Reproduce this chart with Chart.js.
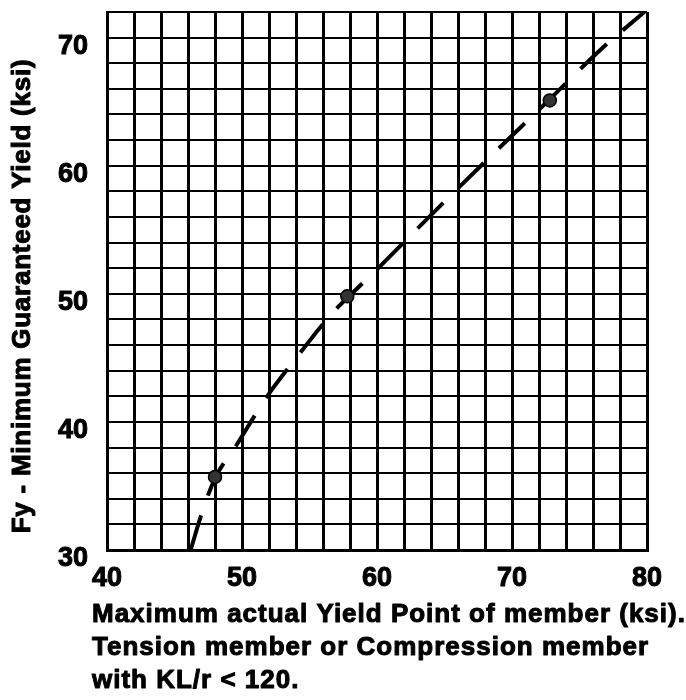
<!DOCTYPE html>
<html>
<head>
<meta charset="utf-8">
<script src="https://cdn.jsdelivr.net/npm/chart.js@4/dist/chart.umd.min.js"></script>
<style>
  body { margin: 0; background: #fff; }
  #wrap { width: 686px; height: 700px; }
</style>
</head>
<body>
<div id="wrap"><canvas id="yieldChart" width="686" height="700"></canvas></div>
<script>
// dashed curve (x = max actual yield, y = Fy)
const curveX = [46.2, 47.0, 48.0, 49.6, 51.8, 54.1, 56.7, 59.8, 63.0, 67.7, 72.8, 76.5, 79.8];
const curveY = [30.0, 32.8, 35.6, 38.2, 41.9, 45.1, 48.5, 51.7, 55.1, 60.0, 65.2, 69.0, 72.0];
// the three marked points on the curve
const markX = [48.0, 57.8, 72.8];
const markY = [35.7, 49.8, 65.1];
// axes
const xRange = [40, 80];
const yRange = [30, 72];
const gridStep = 2;
const xTickLabels = [40, 50, 60, 70, 80];
const yTickLabels = [30, 40, 50, 60, 70];
const yTitle = 'Fy - Minimum Guaranteed Yield (ksi)';
const xTitle = [
    'Maximum actual Yield Point of member (ksi).',
    'Tension member or Compression member',
    'with KL/r < 120.'
];

const FONT = '"Liberation Sans", Arial, sans-serif';
const tickFont = { family: FONT, size: 27, weight: 'bold' };

// axis titles drawn by hand so they can sit where the original puts them
const axisTitles = {
    id: 'axisTitles',
    afterDraw(chart) {
        const { ctx, chartArea } = chart;
        ctx.save();
        ctx.fillStyle = '#000';
        ctx.strokeStyle = '#000';
        ctx.lineWidth = 1;
        ctx.lineJoin = 'round';
        ctx.textBaseline = 'middle';
        ctx.font = 'bold 26px ' + FONT;
        ctx.letterSpacing = '1px';
        ctx.textAlign = 'left';
        xTitle.forEach((line, i) => {
            const y = chartArea.bottom + 65 + i * 33;
            ctx.fillText(line, chartArea.left - 15, y);
            ctx.strokeText(line, chartArea.left - 15, y);
        });
        ctx.letterSpacing = '0.75px';
        ctx.translate(23, (chartArea.top + chartArea.bottom) / 2 + 15);
        ctx.rotate(-Math.PI / 2);
        ctx.textAlign = 'center';
        ctx.fillText(yTitle, 0, 0);
        ctx.strokeText(yTitle, 0, 0);
        ctx.restore();
    }
};

const ctx = document.getElementById('yieldChart').getContext('2d');
new Chart(ctx, {
    type: 'scatter',
    data: {
        datasets: [{
            label: 'Marked points',
            data: markX.map((x, i) => ({ x: x, y: markY[i] })),
            showLine: false,
            pointRadius: 6.5,
            pointBackgroundColor: '#333',
            pointBorderColor: '#000',
            pointBorderWidth: 1.5
        }, {
            label: 'Fy curve',
            data: curveX.map((x, i) => ({ x: x, y: curveY[i] })),
            showLine: true,
            borderColor: '#000',
            borderWidth: 4,
            borderDash: [36, 21],
            cubicInterpolationMode: 'monotone',
            pointRadius: 0,
            fill: false
        }]
    },
    options: {
        responsive: false,
        animation: false,
        layout: {
            padding: { left: 0, top: 12, right: 39, bottom: 0 }
        },
        plugins: {
            legend: { display: false },
            tooltip: { enabled: false }
        },
        scales: {
            x: {
                type: 'linear',
                min: xRange[0],
                max: xRange[1],
                afterFit: (scale) => {
                    scale.height = 150;
                    scale.paddingLeft = 0;
                    scale.paddingRight = 0;
                },
                grid: { color: '#000', lineWidth: 3, drawTicks: false },
                border: { color: '#000', width: 3 },
                ticks: {
                    stepSize: gridStep,
                    autoSkip: false,
                    maxRotation: 0,
                    padding: 12,
                    color: '#000',
                    textStrokeColor: '#000',
                    textStrokeWidth: 1,
                    font: tickFont,
                    callback: (v) => xTickLabels.includes(v) ? v : ''
                }
            },
            y: {
                type: 'linear',
                min: yRange[0],
                max: yRange[1],
                afterFit: (scale) => {
                    scale.width = 107;
                    scale.paddingTop = 0;
                    scale.paddingBottom = 0;
                },
                grid: { color: '#000', lineWidth: 2, drawTicks: false },
                border: { color: '#000', width: 3 },
                ticks: {
                    stepSize: gridStep,
                    autoSkip: false,
                    padding: 19,
                    labelOffset: 9,
                    color: '#000',
                    textStrokeColor: '#000',
                    textStrokeWidth: 1,
                    font: tickFont,
                    callback: (v) => yTickLabels.includes(v) ? v : ''
                }
            }
        }
    },
    plugins: [axisTitles]
});
</script>
</body>
</html>
